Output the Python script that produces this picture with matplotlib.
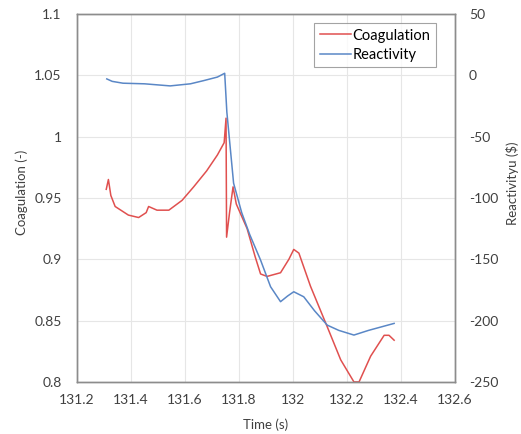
import matplotlib
matplotlib.use('Agg')
import matplotlib.pyplot as plt

plt.rcParams['font.family'] = ['Lato', 'DejaVu Sans']
plt.rcParams['axes.unicode_minus'] = False

# Coagulation (left axis)
time_coag = [131.308, 131.316, 131.325, 131.341, 131.39, 131.428, 131.456, 131.465,
             131.496, 131.54, 131.589, 131.632, 131.68, 131.72, 131.745, 131.752,
             131.754, 131.765, 131.778, 131.79, 131.80, 131.83, 131.86, 131.88,
             131.904, 131.954, 131.985, 132.003, 132.022, 132.065, 132.127, 132.177,
             132.226, 132.245, 132.288, 132.338, 132.356, 132.375]
coagulation = [0.957, 0.965, 0.952, 0.943, 0.936, 0.934, 0.938, 0.943,
               0.940, 0.940, 0.948, 0.959, 0.972, 0.985, 0.995, 1.015,
               0.918, 0.938, 0.959, 0.945, 0.940, 0.925, 0.902, 0.888,
               0.886, 0.889, 0.900, 0.908, 0.905, 0.878, 0.845, 0.818,
               0.800, 0.800, 0.821, 0.838, 0.838, 0.834]

# Reactivity (right axis)
time_react = [131.31, 131.33, 131.37, 131.45, 131.545, 131.62, 131.669, 131.72,
              131.747, 131.755, 131.78, 131.81, 131.84, 131.88, 131.917, 131.954,
              131.98, 132.003, 132.04, 132.08, 132.127, 132.17, 132.226, 132.28,
              132.33, 132.375]
reactivity = [-3, -5, -6.5, -7, -8.7, -7, -4.4, -1.5,
              1.6, -30, -88, -112, -130, -150.7, -172.4, -184.6,
              -180, -176.5, -180.6, -192, -203.7, -208, -211.8, -208,
              -205, -202.3]

x_ticks = [131.2, 131.4, 131.6, 131.8, 132.0, 132.2, 132.4, 132.6]
x_labels = ['131.2', '131.4', '131.6', '131.8', '132', '132.2', '132.4', '132.6']
left_ticks = [0.8, 0.85, 0.9, 0.95, 1.0, 1.05, 1.1]
left_labels = ['0.8', '0.85', '0.9', '0.95', '1', '1.05', '1.1']
right_ticks = [-250, -200, -150, -100, -50, 0, 50]

fig = plt.figure(figsize=(5.21, 4.34), dpi=100)
ax = fig.add_axes([0.148, 0.12, 0.725, 0.848])
ax2 = ax.twinx()

red = '#e0504f'
blue = '#5a87c6'

l1, = ax.plot(time_coag, coagulation, color=red, lw=1.1, label='Coagulation')
l2, = ax2.plot(time_react, reactivity, color=blue, lw=1.1, label='Reactivity')

ax.set_xlim(131.2, 132.6)
ax.set_ylim(0.8, 1.1)
ax2.set_ylim(-250, 50)
ax.set_xticks(x_ticks)
ax.set_xticklabels(x_labels)
ax.set_yticks(left_ticks)
ax.set_yticklabels(left_labels)
ax2.set_yticks(right_ticks)

ax.grid(True, color='#e6e6e6', lw=0.8)
ax.set_axisbelow(True)

for a in (ax, ax2):
    a.tick_params(length=0, labelsize=10, colors='#404040')
    for s in a.spines.values():
        s.set_color('#8c8c8c')
        s.set_linewidth(1.0)
ax.tick_params(axis='y', pad=11)
ax.tick_params(axis='x', pad=9)
ax2.tick_params(axis='y', pad=10)

ax.set_xlabel('Time (s)', fontsize=9.5, color='#404040')
ax.xaxis.set_label_coords(0.5, -0.098)
ax.set_ylabel('Coagulation (-)', fontsize=9.5, color='#404040')
ax.yaxis.set_label_coords(-0.13, 0.516)
ax2.set_ylabel(r'Reactivityu (\$)', fontsize=9.5, color='#404040')
ax2.yaxis.set_label_coords(1.135, 0.541)

leg = ax2.legend(handles=[l1, l2], loc='upper right', bbox_to_anchor=(0.95, 0.976),
                 fontsize=10.5, frameon=True, fancybox=False, handlelength=2.1,
                 handletextpad=0.1, borderpad=0.4, labelspacing=0.35,
                 borderaxespad=0)
leg.get_frame().set_edgecolor('#8c8c8c')
leg.get_frame().set_linewidth(0.8)

fig.savefig('out.png', dpi=100)
